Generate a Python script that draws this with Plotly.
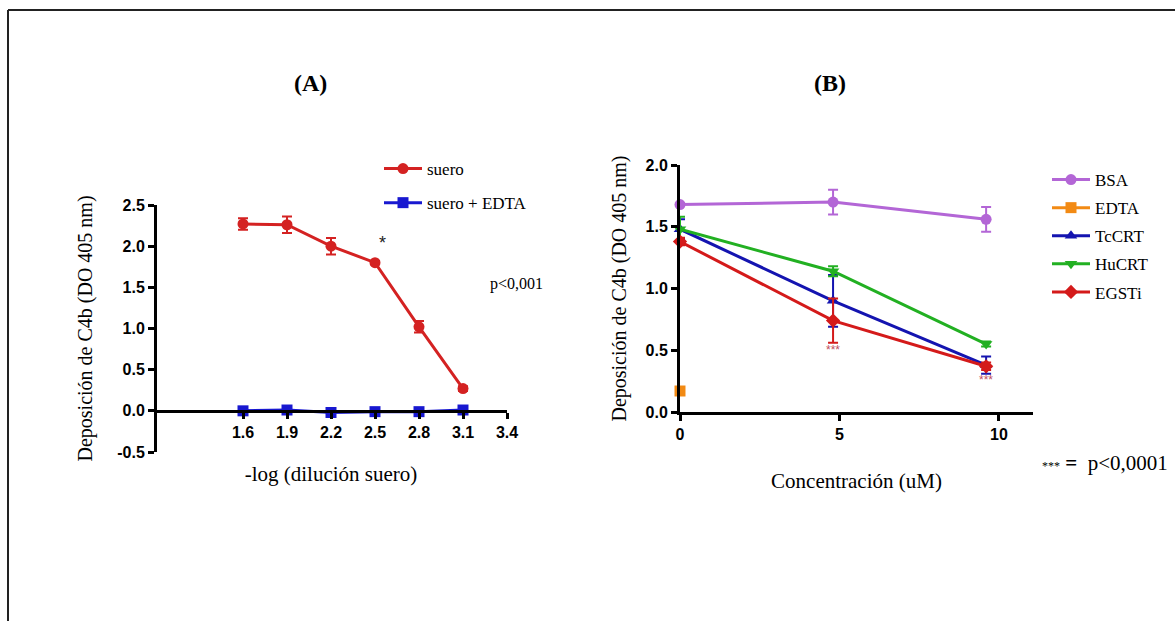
import plotly.graph_objects as go

W, H = 1175, 621
def px(x): return x / W
def py(y): return 1 - y / H

# Panel A data
dil = [1.6, 1.9, 2.2, 2.5, 2.8, 3.1]
suero = [2.27, 2.26, 2.00, 1.80, 1.02, 0.27]
suero_err = [0.07, 0.10, 0.10, 0.02, 0.07, 0.03]
suero_edta = [0.00, 0.01, -0.02, -0.01, -0.01, 0.01]
suero_edta_err = [0.02, 0.02, 0.02, 0.02, 0.02, 0.02]
xticks_a = [1.6, 1.9, 2.2, 2.5, 2.8, 3.1, 3.4]
yticks_a = [-0.5, 0.0, 0.5, 1.0, 1.5, 2.0, 2.5]

# Panel B data
conc = [0, 4.8, 9.6]
bsa = [1.68, 1.70, 1.56]
bsa_err = [0.01, 0.10, 0.10]
edta_x = [0]
edta = [0.17]
tccrt = [1.48, 0.90, 0.38]
tccrt_err = [0.08, 0.21, 0.07]
hucrt = [1.48, 1.14, 0.55]
hucrt_err = [0.10, 0.04, 0.02]
egsti = [1.38, 0.74, 0.37]
egsti_err = [0.03, 0.18, 0.03]
xticks_b = [0, 5, 10]
yticks_b = [0.0, 0.5, 1.0, 1.5, 2.0]

serif = "Liberation Serif"
sans = "Liberation Sans"

fig = go.Figure()

def add(x, y, err, name, color, symbol, xa, ya, legend, size=11):
    fig.add_trace(go.Scatter(
        x=x, y=y, name=name, mode="lines+markers",
        line=dict(color=color, width=3),
        marker=dict(color=color, symbol=symbol, size=size),
        error_y=dict(type="data", array=err, color=color, thickness=2, width=5),
        xaxis=xa, yaxis=ya, legend=legend, legendgroup=name, cliponaxis=False))

add(dil, suero, suero_err, "suero", "#d42222", "circle", "x", "y", "legend")
add(dil, suero_edta, suero_edta_err, "suero + EDTA", "#1818d0", "square", "x", "y", "legend")

add(conc, bsa, bsa_err, "BSA", "#b366d6", "circle", "x2", "y2", "legend2")
add(edta_x, edta, [0], "EDTA", "#f28a14", "square", "x2", "y2", "legend2")
add(conc, tccrt, tccrt_err, "TcCRT", "#1414b0", "triangle-up", "x2", "y2", "legend2")
add(conc, hucrt, hucrt_err, "HuCRT", "#22b022", "triangle-down", "x2", "y2", "legend2")
add(conc, egsti, egsti_err, "EGSTi", "#d41a1a", "diamond", "x2", "y2", "legend2")

axis_common = dict(showgrid=False, zeroline=False, showline=True, linecolor="black",
                   linewidth=3, ticks="outside", ticklen=6, tickwidth=3, tickcolor="black",
                   automargin=False,
                   tickfont=dict(family=sans, size=16, color="black", weight="bold"))
title_font = dict(family=serif, size=20, color="black")

fig.update_layout(
    width=W, height=H, margin=dict(l=0, r=0, t=0, b=0, autoexpand=False),
    plot_bgcolor="white", paper_bgcolor="white",
    xaxis=dict(domain=[px(155), px(507)], range=[1.0, 3.4], tickvals=xticks_a,
               ticktext=[f"{v:.1f}" for v in xticks_a], anchor="free", position=py(411),
               title=dict(text="-log (dilución suero)", font=dict(family=serif, size=21, color="black"),
                          standoff=26),
               **axis_common),
    yaxis=dict(domain=[py(452), py(205)], range=[-0.5, 2.5], tickvals=yticks_a,
               ticktext=[f"{v:.1f}" for v in yticks_a], anchor="free", position=px(155),
               title=dict(text="Deposición de C4b (DO 405 nm)", font=title_font, standoff=18),
               **axis_common),
    xaxis2=dict(domain=[px(680), px(1033)], range=[0, 11.07], tickvals=xticks_b,
                anchor="y2",
                title=dict(text="Concentración (uM)", font=dict(family=serif, size=21, color="black"),
                           standoff=32),
                **axis_common),
    yaxis2=dict(domain=[py(412), py(165)], range=[0, 2.0], tickvals=yticks_b,
                ticktext=[f"{v:.1f}" for v in yticks_b], anchor="x2",
                title=dict(text="Deposición de C4b (DO 405 nm)", font=title_font, standoff=14),
                **axis_common),
    legend=dict(x=px(379), y=py(151), xanchor="left", yanchor="top", tracegroupgap=9,
                itemwidth=38,
                font=dict(family=serif, size=17, color="black"), bgcolor="rgba(0,0,0,0)"),
    legend2=dict(x=px(1047), y=py(162), xanchor="left", yanchor="top", tracegroupgap=3,
                 itemwidth=38,
                 font=dict(family=serif, size=17, color="black"), bgcolor="rgba(0,0,0,0)"),
    showlegend=True,
)

ann_font = dict(family=serif, color="black")
fig.add_annotation(x=px(310), y=py(83), xref="paper", yref="paper", text="<b>(A)</b>",
                   xanchor="center", yanchor="middle", showarrow=False, font=dict(size=24, **ann_font))
fig.add_annotation(x=px(830), y=py(83), xref="paper", yref="paper", text="<b>(B)</b>",
                   xanchor="center", yanchor="middle", showarrow=False, font=dict(size=24, **ann_font))
fig.add_annotation(x=2.55, y=2.04, xref="x", yref="y", text="*", showarrow=False,
                   xanchor="center", yanchor="middle",
                   font=dict(family=sans, size=18, color="#222222"))
fig.add_annotation(x=px(488), y=py(284), xref="paper", yref="paper", text="p&lt;0,001",
                   xanchor="left", yanchor="middle", showarrow=False, font=dict(size=16, **ann_font))
fig.add_annotation(x=4.8, y=0.50, xref="x2", yref="y2", text="***", showarrow=False,
                   xanchor="center", yanchor="middle",
                   font=dict(family=sans, size=12, color="#c05060"))
fig.add_annotation(x=9.6, y=0.26, xref="x2", yref="y2", text="***", showarrow=False,
                   xanchor="center", yanchor="middle",
                   font=dict(family=sans, size=12, color="#c05060"))
fig.add_annotation(x=px(1040), y=py(463), xref="paper", yref="paper",
                   text="<span style='font-size:12px'>***</span> <b>=</b>  p&lt;0,0001",
                   xanchor="left", yanchor="middle", showarrow=False, font=dict(size=21, **ann_font))

# page frame
fig.add_shape(type="line", xref="paper", yref="paper", x0=px(8), x1=px(8), y0=py(10), y1=0,
              line=dict(color="#222222", width=2))
fig.add_shape(type="line", xref="paper", yref="paper", x0=px(8), x1=1, y0=py(10), y1=py(10),
              line=dict(color="#222222", width=2))

fig.write_html("out.html", config={"displayModeBar": False},
               post_script="document.body.style.margin='0';document.body.style.overflow='hidden';")
